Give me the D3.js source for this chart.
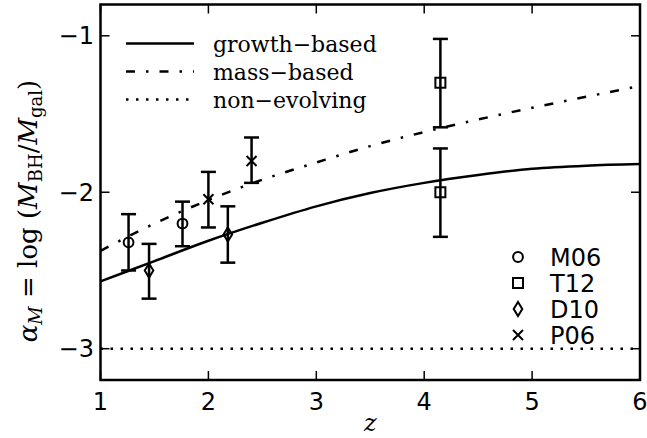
<!DOCTYPE html>
<html>
<head>
<meta charset="utf-8">
<script src="https://cdn.jsdelivr.net/npm/d3@7"></script>
<style>
  html, body { margin: 0; padding: 0; background: #fff; }
  svg { display: block; }
</style>
</head>
<body>
<svg id="chart" width="647" height="438"></svg>
<script>
// Model curves of the black-hole / galaxy mass ratio versus redshift
const zGrid       = [1, 1.5, 2, 2.5, 3, 3.5, 4, 4.5, 5, 5.5, 6];
const growthBased = [-2.57, -2.44, -2.31, -2.195, -2.09, -2.005, -1.94, -1.89, -1.85, -1.83, -1.82];
const massBased   = [-2.375, -2.20, -2.05, -1.92, -1.81, -1.705, -1.615, -1.535, -1.46, -1.39, -1.32];
const nonEvolving = [-3, -3, -3, -3, -3, -3, -3, -3, -3, -3, -3];

// Observations: redshift, value, lower and upper error bound
const m06 = { z: [1.26, 1.76], v: [-2.32, -2.20], lo: [-2.50, -2.345], hi: [-2.14, -2.06] };
const t12 = { z: [4.15, 4.15], v: [-1.30, -2.00], lo: [-1.585, -2.285], hi: [-1.02, -1.72] };
const d10 = { z: [1.45, 2.18], v: [-2.50, -2.27], lo: [-2.68, -2.45], hi: [-2.33, -2.09] };
const p06 = { z: [2.00, 2.40], v: [-2.045, -1.80], lo: [-2.225, -1.94], hi: [-1.87, -1.65] };

const xTicks = [1, 2, 3, 4, 5, 6];
const yTicks = [-3, -2, -1];
const curveNames = ["growth\u2212based", "mass\u2212based", "non\u2212evolving"];
const sampleNames = ["M06", "T12", "D10", "P06"];

const svg = d3.select("#chart");
const plotL = 100.5, plotR = 640, plotT = 4.5, plotB = 380;

const x = d3.scaleLinear().domain([1, 6]).range([plotL, plotR]);
const y = d3.scaleLinear().domain([-3.2, -0.8]).range([plotB, plotT]);

const ink = "#000";
const lineW = 2.5;
const dashDot = "9,11,2.5,11";
const dotted = "2.5,7.5";

svg.append("defs").append("clipPath").attr("id", "plotClip")
  .append("rect").attr("x", plotL).attr("y", plotT)
  .attr("width", plotR - plotL).attr("height", plotB - plotT);

const plot = svg.append("g").attr("clip-path", "url(#plotClip)");

const line = d3.line()
  .x((d, i) => x(zGrid[i]))
  .y(d => y(d))
  .curve(d3.curveMonotoneX);

const curves = [
  { vals: growthBased, dash: null },
  { vals: massBased, dash: dashDot },
  { vals: nonEvolving, dash: dotted }
];
curves.forEach(c => {
  plot.append("path")
    .attr("d", line(c.vals))
    .attr("fill", "none")
    .attr("stroke", ink)
    .attr("stroke-width", lineW)
    .attr("stroke-dasharray", c.dash);
});

// Marker shapes drawn around (0,0)
function drawMarker(g, kind) {
  const common = s => s.attr("fill", "none").attr("stroke", ink).attr("stroke-width", 2);
  if (kind === "circle") {
    common(g.append("circle").attr("r", 4.9));
  } else if (kind === "square") {
    common(g.append("rect").attr("x", -5).attr("y", -5).attr("width", 10).attr("height", 10));
  } else if (kind === "diamond") {
    common(g.append("path").attr("d", "M0,-7L4.3,0L0,7L-4.3,0Z"));
  } else {
    common(g.append("path").attr("d", "M-5,-5L5,5M-5,5L5,-5"));
  }
}

const sets = [
  { d: m06, kind: "circle" },
  { d: t12, kind: "square" },
  { d: d10, kind: "diamond" },
  { d: p06, kind: "cross" }
];
const capHalf = 7.5;
const pts = svg.append("g");
sets.forEach(s => {
  s.d.z.forEach((z, i) => {
    const cx = x(z);
    const g = pts.append("g");
    g.append("line").attr("x1", cx).attr("x2", cx)
      .attr("y1", y(s.d.lo[i])).attr("y2", y(s.d.hi[i]))
      .attr("stroke", ink).attr("stroke-width", lineW);
    [s.d.lo[i], s.d.hi[i]].forEach(b => {
      g.append("line").attr("x1", cx - capHalf).attr("x2", cx + capHalf)
        .attr("y1", y(b)).attr("y2", y(b))
        .attr("stroke", ink).attr("stroke-width", lineW);
    });
    const m = pts.append("g").attr("transform", `translate(${cx},${y(s.d.v[i])})`);
    drawMarker(m, s.kind);
  });
});

// Frame with inward ticks on all four sides
const tickLen = 9;
const axes = svg.append("g");
xTicks.forEach(t => {
  axes.append("line").attr("x1", x(t)).attr("x2", x(t)).attr("y1", plotB).attr("y2", plotB - tickLen)
    .attr("stroke", ink).attr("stroke-width", 1.5);
  axes.append("line").attr("x1", x(t)).attr("x2", x(t)).attr("y1", plotT).attr("y2", plotT + tickLen)
    .attr("stroke", ink).attr("stroke-width", 1.5);
  axes.append("text").attr("x", x(t)).attr("y", 410)
    .attr("text-anchor", "middle")
    .attr("font-family", "DejaVu Sans").attr("font-size", 24)
    .text(d3.format("d")(t));
});
yTicks.forEach(t => {
  axes.append("line").attr("x1", plotL).attr("x2", plotL + tickLen).attr("y1", y(t)).attr("y2", y(t))
    .attr("stroke", ink).attr("stroke-width", 1.5);
  axes.append("line").attr("x1", plotR).attr("x2", plotR - tickLen).attr("y1", y(t)).attr("y2", y(t))
    .attr("stroke", ink).attr("stroke-width", 1.5);
  axes.append("text").attr("x", 94).attr("y", y(t) + 8.5)
    .attr("text-anchor", "end")
    .attr("font-family", "DejaVu Sans").attr("font-size", 24)
    .text("\u2212" + Math.abs(t));
});
axes.append("rect").attr("x", plotL).attr("y", plotT)
  .attr("width", plotR - plotL).attr("height", plotB - plotT)
  .attr("fill", "none").attr("stroke", ink).attr("stroke-width", 2.5);

// Axis titles
svg.append("text").attr("x", (plotL + plotR) / 2).attr("y", 431)
  .attr("text-anchor", "middle")
  .attr("font-family", "DejaVu Serif").attr("font-style", "italic").attr("font-size", 24)
  .text("z");

const yl = svg.append("text")
  .attr("transform", "translate(37,211) rotate(-90)")
  .attr("text-anchor", "middle")
  .attr("font-family", "DejaVu Serif").attr("font-size", 26);
yl.append("tspan").attr("font-style", "italic").text("\u03b1");
yl.append("tspan").attr("font-style", "italic").attr("font-size", 18).attr("dy", 5).text("M");
yl.append("tspan").attr("dy", -5).text(" = log (");
yl.append("tspan").attr("font-style", "italic").text("M");
yl.append("tspan").attr("font-size", 18).attr("dy", 5).text("BH");
yl.append("tspan").attr("dy", -5).text("/");
yl.append("tspan").attr("font-style", "italic").text("M");
yl.append("tspan").attr("font-size", 18).attr("dy", 5).text("gal");
yl.append("tspan").attr("dy", -5).text(")");

// Legend for the model curves
const leg = svg.append("g");
curves.forEach((c, i) => {
  const ly = 43.5 + i * 28;
  leg.append("line").attr("x1", 126).attr("x2", 194).attr("y1", ly).attr("y2", ly)
    .attr("stroke", ink).attr("stroke-width", lineW).attr("stroke-dasharray", c.dash);
  leg.append("text").attr("x", 213).attr("y", ly + 8)
    .attr("font-family", "DejaVu Serif").attr("font-size", 22)
    .text(curveNames[i]);
});

// Legend for the observational samples
sets.forEach((s, i) => {
  const ly = 257 + i * 26;
  const m = leg.append("g").attr("transform", `translate(518,${ly})`);
  drawMarker(m, s.kind);
  leg.append("text").attr("x", 550).attr("y", ly + 8.5)
    .attr("font-family", "DejaVu Sans").attr("font-size", 24)
    .text(sampleNames[i]);
});
</script>
</body>
</html>
